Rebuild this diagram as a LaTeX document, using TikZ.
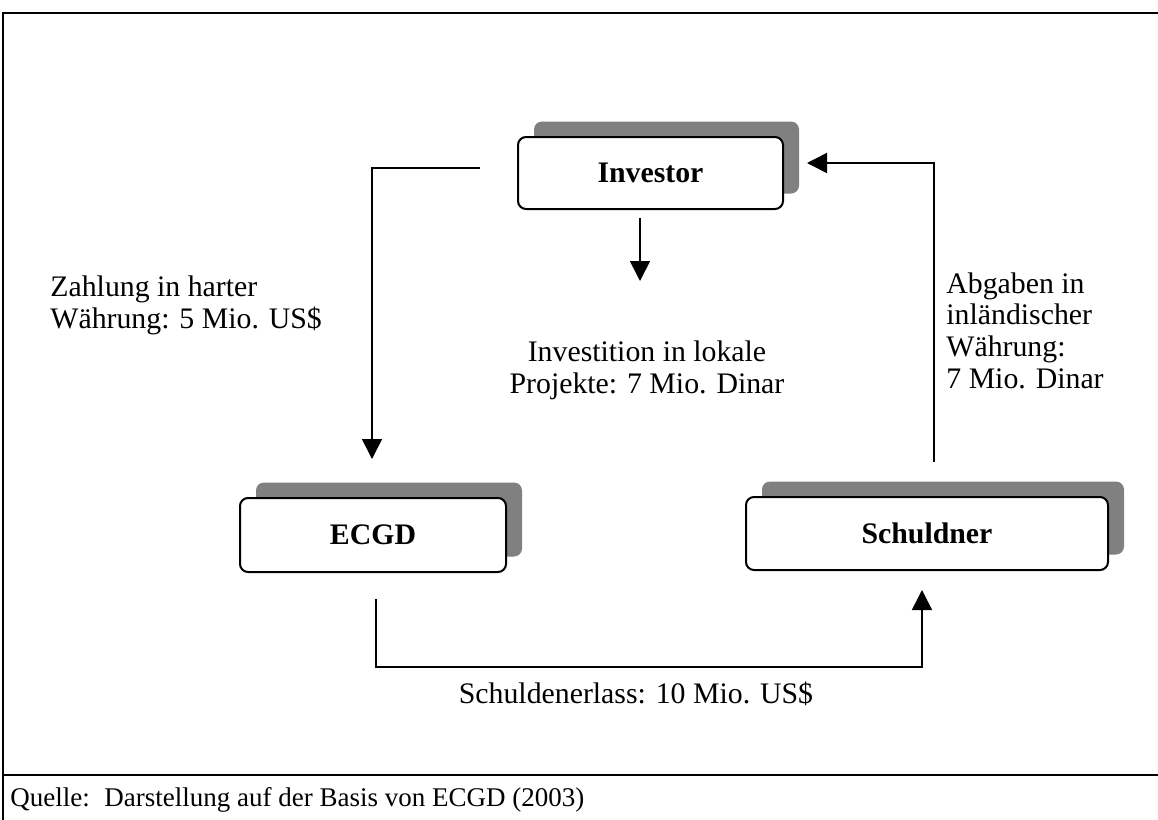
\documentclass[tikz,border=0pt]{standalone}
\usepackage{fontspec}
\setmainfont{Liberation Serif}
\usetikzlibrary{arrows.meta,shadows}
\tikzset{
  txt/.style={inner sep=0pt, font={\fontsize{14.9}{15.6}\selectfont}},
  foot/.style={inner sep=0pt, font={\fontsize{13.5}{15.6}\selectfont}},
  box/.style={draw=black, line width=1pt, fill=white, rounded corners=4pt,
    font={\fontsize{14.9}{15.6}\selectfont\bfseries},
    general shadow={fill=black!50, shadow xshift=8pt, shadow yshift=7.75pt}},
  conn/.style={line width=0.8pt},
  arr/.style={conn, -{Triangle[length=10pt,width=10pt]}},
  frame/.style={line width=1pt}
}
\begin{document}
\begin{tikzpicture}[x=0.5pt,y=-0.5pt]
\useasboundingbox (0,0) rectangle (1158,820);
% frame
\coordinate (ftl) at (3,13);
\coordinate (ftr) at (1158,13);
\coordinate (fbl) at (3,820);
\coordinate (fml) at (3,775);
\coordinate (fmr) at (1158,775);
\draw[frame] (ftr) -- (ftl) -- (fbl);
\draw[frame] (fml) -- (fmr);
% boxes
\node[box, minimum width=132.5pt, minimum height=36pt] (inv) at (650.5,173) {Investor};
\node[box, minimum width=133pt, minimum height=37pt] (ecgd) at (373,535) {ECGD};
\node[box, minimum width=181pt, minimum height=36.5pt] (sch) at (927,533.5) {Schuldner};
% connector coordinates
\coordinate (a1) at (480,168);
\coordinate (a2) at (372,459);
\coordinate (b1) at (640,218);
\coordinate (b2) at (640,281);
\coordinate (c1) at (934,462);
\coordinate (c2) at (807,163);
\coordinate (d1) at (376,599);
\coordinate (d2) at (376,667);
\coordinate (d3) at (922,667);
\coordinate (d4) at (922,590);
\draw[arr] (a1) -| (a2);
\draw[arr] (b1) -- (b2);
\draw[arr] (c1) |- (c2);
\draw[arr] (d1) -- (d2) -- (d3) -- (d4);
% labels (base anchor = last line's baseline)
\node[txt, anchor=base west, align=left] (l1) at (50,328) {Zahlung in harter\\Währung: 5 Mio. US\$};
\node[txt, anchor=base, align=center] (l2) at (647,393) {Investition in lokale\\Projekte: 7 Mio. Dinar};
\node[txt, anchor=base west, align=left, font={\fontsize{14.9}{15.8}\selectfont}] (l3) at (946,388) {Abgaben in\\inländischer\\Währung:\\7 Mio. Dinar};
\node[txt, anchor=base] (l4) at (636,703) {Schuldenerlass: 10 Mio. US\$};
\node[foot, anchor=base west] (q1) at (10,806) {Quelle:};
\node[foot, anchor=base west] (q2) at (104,806) {Darstellung auf der Basis von ECGD (2003)};
\end{tikzpicture}
\end{document}
